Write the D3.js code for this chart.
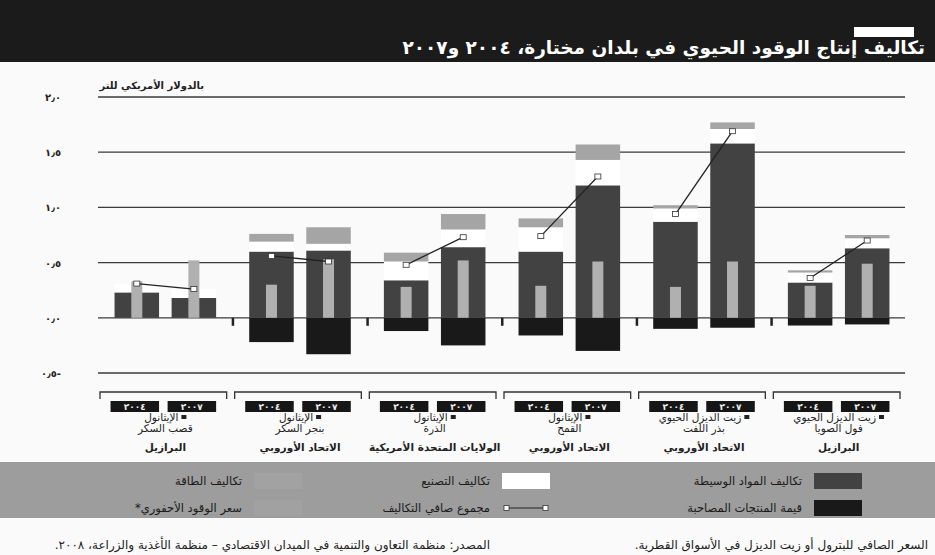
<!DOCTYPE html>
<html>
<head>
<meta charset="utf-8">
<script src="https://cdn.jsdelivr.net/npm/d3@7"></script>
<style>
  body { margin: 0; background: #fafafa; }
  svg { display: block; font-family: "DejaVu Sans", sans-serif; }
</style>
</head>
<body>
<svg width="935" height="555"></svg>
<script>
// data (US$ per litre)
var groups = ["g1", "g2", "g3", "g4", "g5", "g6"];
var years = ["2004", "2007"];
var yearLabels = ["٢٠٠٤", "٢٠٠٧"];
var fuelLine1 = ["الإيثانول", "الإيثانول", "الإيثانول", "الإيثانول", "زيت الديزل الحيوي", "زيت الديزل الحيوي"];
var fuelLine2 = ["قصب السكر", "بنجر السكر", "الذرة", "القمح", "بذر اللفت", "فول الصويا"];
var regions = ["البرازيل", "الاتحاد الأوروبي", "الولايات المتحدة الأمريكية", "الاتحاد الأوروبي", "الاتحاد الأوروبي", "البرازيل"];

// one value per bar: g1-2004, g1-2007, g2-2004, ...
var feedstock  = [0.23, 0.18, 0.60, 0.61, 0.34, 0.64, 0.60, 1.20, 0.87, 1.58, 0.32, 0.63];
var processing = [0.08, 0.08, 0.09, 0.06, 0.17, 0.16, 0.22, 0.23, 0.12, 0.13, 0.09, 0.09];
var energy     = [0.00, 0.00, 0.07, 0.15, 0.08, 0.14, 0.08, 0.14, 0.03, 0.06, 0.02, 0.03];
var coproduct  = [0.00, 0.00, 0.22, 0.33, 0.12, 0.25, 0.16, 0.30, 0.10, 0.09, 0.07, 0.06];
var fossil     = [0.33, 0.52, 0.30, 0.53, 0.28, 0.52, 0.29, 0.51, 0.28, 0.51, 0.29, 0.49];
var netCost    = [0.31, 0.26, 0.56, 0.51, 0.48, 0.73, 0.74, 1.28, 0.94, 1.69, 0.36, 0.70];

var yTicks = [2.0, 1.5, 1.0, 0.5, 0.0, -0.5];
var yTickLabels = ["٢٫٠", "١٫٥", "١٫٠", "٠٫٥", "٠٫٠", "٠٫٥-"];

var title = "تكاليف إنتاج الوقود الحيوي في بلدان مختارة، ٢٠٠٤ و٢٠٠٧";
var unitLabel = "بالدولار الأمريكي للتر";
var legendItems = ["تكاليف المواد الوسيطة", "تكاليف التصنيع", "تكاليف الطاقة",
                   "قيمة المنتجات المصاحبة", "مجموع صافي التكاليف", "سعر الوقود الأحفوري*"];
var footNote = "السعر الصافي للبترول أو زيت الديزل في الأسواق القطرية.";
var source = "المصدر: منظمة التعاون والتنمية في الميدان الاقتصادي – منظمة الأغذية والزراعة، ٢٠٠٨.";

var colFeed = "#424242", colCo = "#191919", colEnergy = "#a5a5a5", colFossil = "#b0b0b0";

var svg = d3.select("svg");

// build bar table
var bars = [];
groups.forEach(function(g, gi) {
  years.forEach(function(yr, yi) {
    var i = gi * 2 + yi;
    bars.push({g: g, gi: gi, yr: yr, f: feedstock[i], p: processing[i], e: energy[i],
               c: coproduct[i], fos: fossil[i], net: netCost[i]});
  });
});

var x0 = d3.scaleBand().domain(groups).range([98, 906]);
var x1 = d3.scaleBand().domain(years).range([0, x0.bandwidth()]).paddingInner(0.22).paddingOuter(0.29);
var y = d3.scaleLinear().domain([-0.5, 2.0]).range([373, 97]);

// title band
svg.append("rect").attr("x", 0).attr("y", 0).attr("width", 935).attr("height", 62).attr("fill", "#1b1b1b");
svg.append("rect").attr("x", 854).attr("y", 27).attr("width", 60).attr("height", 10).attr("fill", "#fff");
svg.append("text").attr("x", 925).attr("y", 54)
    .attr("direction", "rtl").attr("text-anchor", "start")
    .style("font-size", "18.5px").style("font-weight", "bold").attr("fill", "#fff")
    .text(title);

// gridlines
svg.append("g").selectAll("line").data(yTicks).join("line")
    .attr("x1", 98).attr("x2", 905)
    .attr("y1", function(d) { return y(d); }).attr("y2", function(d) { return y(d); })
    .attr("stroke", "#3a3a3a").attr("stroke-width", 1.3);

svg.append("g").selectAll("text").data(yTicks).join("text")
    .attr("x", 61).attr("y", function(d) { return y(d) + 4; })
    .attr("text-anchor", "end").attr("direction", "ltr")
    .style("font-size", "10px").style("font-weight", "bold").style("letter-spacing", "1px").attr("fill", "#222")
    .text(function(d, i) { return yTickLabels[i]; });

svg.append("text").attr("x", 204).attr("y", 89)
    .attr("direction", "rtl").attr("text-anchor", "start")
    .style("font-size", "10px").style("font-weight", "bold").attr("fill", "#222")
    .text(unitLabel);

// bars
var bx = function(d) { return x0(d.g) + x1(d.yr); };
var bw = x1.bandwidth();
var gBars = svg.append("g");

gBars.selectAll("rect.co").data(bars).join("rect").attr("class", "co")
    .attr("x", bx).attr("width", bw)
    .attr("y", y(0)).attr("height", function(d) { return y(-d.c) - y(0); })
    .attr("fill", colCo);

gBars.selectAll("rect.feed").data(bars).join("rect").attr("class", "feed")
    .attr("x", bx).attr("width", bw)
    .attr("y", function(d) { return y(d.f); }).attr("height", function(d) { return y(0) - y(d.f); })
    .attr("fill", colFeed);

gBars.selectAll("rect.proc").data(bars).join("rect").attr("class", "proc")
    .attr("x", bx).attr("width", bw)
    .attr("y", function(d) { return y(d.f + d.p); }).attr("height", function(d) { return y(d.f) - y(d.f + d.p); })
    .attr("fill", "#fff");

gBars.selectAll("rect.energy").data(bars.filter(function(d) { return d.e > 0; })).join("rect").attr("class", "energy")
    .attr("x", bx).attr("width", bw)
    .attr("y", function(d) { return y(d.f + d.p + d.e); })
    .attr("height", function(d) { return Math.max(2, y(d.f + d.p) - y(d.f + d.p + d.e)); })
    .attr("fill", colEnergy);

// fossil fuel price: narrow bar in the middle
var fw = 11;
gBars.selectAll("rect.fossil").data(bars).join("rect").attr("class", "fossil")
    .attr("x", function(d) { return bx(d) + bw / 2 - fw / 2; }).attr("width", fw)
    .attr("y", function(d) { return y(d.fos); }).attr("height", function(d) { return y(0) - y(d.fos); })
    .attr("fill", colFossil);

// net cost lines
var pairs = d3.groups(bars, function(d) { return d.g; });
svg.append("g").selectAll("line").data(pairs).join("line")
    .attr("x1", function(d) { return bx(d[1][0]) + bw / 2; })
    .attr("y1", function(d) { return y(d[1][0].net); })
    .attr("x2", function(d) { return bx(d[1][1]) + bw / 2; })
    .attr("y2", function(d) { return y(d[1][1].net); })
    .attr("stroke", "#222").attr("stroke-width", 1.3);

svg.append("g").selectAll("rect").data(bars).join("rect")
    .attr("x", function(d) { return bx(d) + bw / 2 - 3; })
    .attr("y", function(d) { return y(d.net) - 2.5; })
    .attr("width", 6).attr("height", 5)
    .attr("fill", "#fff").attr("stroke", "#333").attr("stroke-width", 0.8);

// small separators on zero line
svg.append("g").selectAll("rect").data(groups.slice(1)).join("rect")
    .attr("x", function(d) { return x0(d) - 1; }).attr("y", y(0))
    .attr("width", 2.5).attr("height", 8).attr("fill", "#222");

// category axis: brackets, year boxes, labels
var cat = svg.append("g").selectAll("g").data(groups).join("g")
    .attr("transform", function(d) { return "translate(" + x0(d) + ",0)"; });

cat.append("path")
    .attr("d", "M2,399V392H" + (x0.bandwidth() - 6) + "V399")
    .attr("fill", "none").attr("stroke", "#333").attr("stroke-width", 1.3);

years.forEach(function(yr, yi) {
  cat.append("rect").attr("x", x1(yr) - 4).attr("y", 401).attr("width", bw + 4).attr("height", 11)
      .attr("fill", "#161616");
  cat.append("text").attr("x", x1(yr) - 2 + bw / 2).attr("y", 410)
      .attr("text-anchor", "middle").attr("direction", "ltr")
      .style("font-size", "9px").style("font-weight", "bold").attr("fill", "#eee")
      .text(yearLabels[yi]);
});

var cx = x0.bandwidth() / 2;
var fuel1 = cat.append("text").attr("x", cx - 4).attr("y", 421)
    .attr("text-anchor", "middle").attr("direction", "rtl")
    .style("font-size", "10.5px").attr("fill", "#222")
    .text(function(d, i) { return fuelLine1[i]; });
// the small square that follows the fuel name
cat.append("rect")
    .attr("x", function(d, i) { return cx - 4 + fuel1.nodes()[i].getComputedTextLength() / 2 + 3; })
    .attr("y", 415).attr("width", 5).attr("height", 4).attr("fill", "#222");
cat.append("text").attr("x", cx).attr("y", 432)
    .attr("text-anchor", "middle").attr("direction", "rtl")
    .style("font-size", "10.5px").attr("fill", "#222")
    .text(function(d, i) { return fuelLine2[i]; });
cat.append("text").attr("x", cx).attr("y", 451)
    .attr("text-anchor", "middle").attr("direction", "rtl")
    .style("font-size", "10.5px").style("font-weight", "bold").attr("fill", "#222")
    .text(function(d, i) { return regions[i]; });

// legend band
svg.append("rect").attr("x", 0).attr("y", 462).attr("width", 935).attr("height", 56).attr("fill", "#9d9d9d");

var legX = [862, 550, 302];   // right edge of each swatch column
var legY = [481, 508];
var swatchFill = [colFeed, "#fff", "#a2a2a2", colCo, null, "#a1a1a1"];
legendItems.forEach(function(t, i) {
  var col = i % 3, row = Math.floor(i / 3);
  var sx = legX[col] - 48, sy = legY[row] - 8;
  if (swatchFill[i]) {
    svg.append("rect").attr("x", sx).attr("y", sy).attr("width", 48).attr("height", 16).attr("fill", swatchFill[i]);
  } else {
    svg.append("line").attr("x1", sx + 4).attr("x2", sx + 44).attr("y1", legY[row]).attr("y2", legY[row])
        .attr("stroke", "#222").attr("stroke-width", 1.2);
    svg.append("rect").attr("x", sx + 2).attr("y", legY[row] - 2.5).attr("width", 5).attr("height", 5)
        .attr("fill", "#fff").attr("stroke", "#333").attr("stroke-width", 0.8);
    svg.append("rect").attr("x", sx + 41).attr("y", legY[row] - 2.5).attr("width", 5).attr("height", 5)
        .attr("fill", "#fff").attr("stroke", "#333").attr("stroke-width", 0.8);
  }
  svg.append("text").attr("x", sx - 12).attr("y", legY[row] + 4)
      .attr("direction", "rtl").attr("text-anchor", "start")
      .style("font-size", "11.5px").attr("fill", "#1a1a1a")
      .text(t);
});

// footer
svg.append("text").attr("x", 928).attr("y", 549)
    .attr("direction", "rtl").attr("text-anchor", "start")
    .style("font-size", "12px").attr("fill", "#222").text(footNote);
svg.append("text").attr("x", 490).attr("y", 549)
    .attr("direction", "rtl").attr("text-anchor", "start")
    .style("font-size", "12px").style("letter-spacing", "0.9px").attr("fill", "#222").text(source);
</script>
</body>
</html>
